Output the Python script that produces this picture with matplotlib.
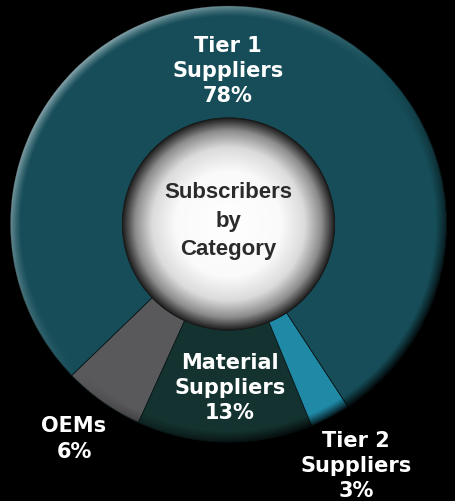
import numpy as np
import matplotlib
matplotlib.use("Agg")
import matplotlib.pyplot as plt
from matplotlib.patches import Circle

# ---- data ----
categories = ["OEMs", "Material\nSuppliers", "Tier 2\nSuppliers", "Tier 1\nSuppliers"]
shares = [6, 13, 3, 78]
colors = ["#59595b", "#14322f", "#1f89a6", "#164d58"]
center_title = "Subscribers\nby\nCategory"

W, H = 455, 502
fig = plt.figure(figsize=(W / 100, H / 100), dpi=100, facecolor="black")
ax = fig.add_axes([0, 0, 1, 1])
ax.set_facecolor("black")
ax.set_xlim(0, W)
ax.set_ylim(0, H)
ax.set_aspect("equal")
ax.axis("off")

cx, cy = 228.5, H - 225
R = 218
Rin = 106

wedges, _ = ax.pie(shares, colors=colors, radius=R, center=(cx, cy),
                   startangle=224, counterclock=True,
                   wedgeprops=dict(width=R - Rin, edgecolor="#0c1a1c", linewidth=0.6))
ax.set_xlim(0, W)
ax.set_ylim(0, H)

# bevel overlay on the outer rim
xs = np.arange(W) + 0.5
ys = H - (np.arange(H) + 0.5)
X, Y = np.meshgrid(xs, ys)
dx, dy = X - cx, Y - cy
r = np.hypot(dx, dy)
theta = np.arctan2(dy, dx)
band = 11.0
t = np.clip((r - (R - band)) / band, 0, 1)
inside = np.clip(R - r + 0.5, 0, 1)
d = np.cos(theta - np.deg2rad(135))
light = np.clip(d, 0, 1) * t ** 1.3 * 0.6 * inside
dark = np.clip(-d, 0, 1) * t ** 1.1 * 0.85 * inside
rgba = np.zeros((H, W, 4))
tot = light + dark
with np.errstate(invalid="ignore", divide="ignore"):
    frac = np.where(tot > 0, light / tot, 0)
rgba[..., 0] = frac * 0.85
rgba[..., 1] = frac * 0.9
rgba[..., 2] = frac * 0.92
rgba[..., 3] = np.clip(tot, 0, 1)
ax.imshow(rgba, extent=(0, W, 0, H), origin="upper", zorder=3, interpolation="bilinear")

# center sphere
Rs = 106
s = r / Rs
g = np.interp(s, [0, 0.5, 0.72, 0.88, 0.97, 1.0], [1.0, 0.98, 0.86, 0.55, 0.22, 0.12])
sph = np.zeros((H, W, 4))
sph[..., 0] = g
sph[..., 1] = g
sph[..., 2] = g
sph[..., 3] = np.clip(Rs - r + 0.5, 0, 1)
ax.imshow(sph, extent=(0, W, 0, H), origin="upper", zorder=4, interpolation="bilinear")
ax.add_patch(Circle((cx, cy), Rs, fill=False, edgecolor="#1a1a1a", linewidth=0.8, zorder=5))
ax.set_xlim(0, W)
ax.set_ylim(0, H)

label_font = dict(family=["DejaVu Sans"], fontweight="bold", fontsize=15,
                  ha="center", va="center", linespacing=1.32, zorder=6)

label_pos = [(74, H - 439), (230, H - 388), (356, H - 466), (228, H - 71)]
for cat, val, (lx, ly) in zip(categories, shares, label_pos):
    ax.text(lx, ly, f"{cat}\n{val}%", color="white", **label_font)

center_font = dict(family=["Liberation Sans", "DejaVu Sans"], fontweight="bold", fontsize=16,
                   ha="center", va="center", linespacing=1.45, zorder=6)
ax.text(cx, H - 221, center_title, color="#2b2b2b", **center_font)

fig.savefig("out.png", dpi=100, facecolor="black")
